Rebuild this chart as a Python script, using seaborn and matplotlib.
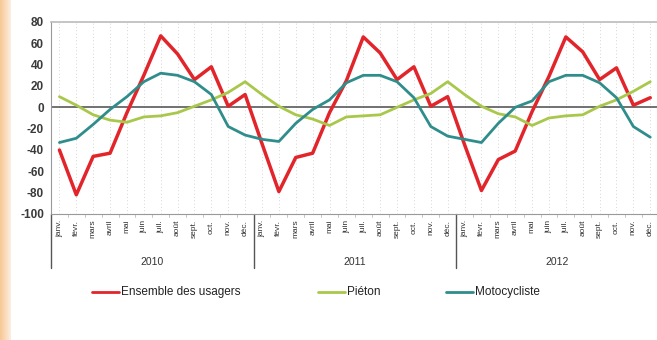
import numpy as np
import pandas as pd
import matplotlib.pyplot as plt
import seaborn as sns
from matplotlib.colors import LinearSegmentedColormap

sns.set_style("white")
plt.rcParams['font.family'] = ['Liberation Sans', 'DejaVu Sans']

years = ['2010', '2011', '2012']
months = ['janv.', 'févr.', 'mars', 'avril', 'mai', 'juin',
          'juil.', 'août', 'sept.', 'oct.', 'nov.', 'déc.']

ensemble = [-40, -82, -46, -43, -5, 30, 67, 50, 26, 38, 1, 12,
            -34, -79, -47, -43, -5, 25, 66, 51, 26, 38, 1, 10,
            -35, -78, -49, -41, -4, 29, 66, 52, 26, 37, 2, 9]
pieton = [10, 2, -7, -12, -14, -9, -8, -5, 1, 7, 14, 24,
          12, 1, -7, -11, -17, -9, -8, -7, 0, 7, 13, 24,
          12, 1, -6, -9, -17, -10, -8, -7, 1, 7, 15, 24]
moto = [-33, -29, -16, -2, 10, 24, 32, 30, 24, 12, -18, -26,
        -30, -32, -15, -2, 7, 23, 30, 30, 24, 9, -18, -27,
        -30, -33, -15, 0, 6, 24, 30, 30, 23, 9, -18, -28]

series_names = ['Ensemble des usagers', 'Piéton', 'Motocycliste']
colors = ['#e2252b', '#a9c84b', '#2f8d8b']

n = len(ensemble)
df = pd.DataFrame({
    'idx': np.tile(np.arange(n), 3),
    'valeur': ensemble + pieton + moto,
    'serie': np.repeat(series_names, n),
})

fig = plt.figure(figsize=(6.57, 3.40), dpi=100)

# peach strip on the left
strip = fig.add_axes([0, 0, 0.016, 1])
cmap = LinearSegmentedColormap.from_list('peach', ['#f6c894', '#fdeee0'])
strip.imshow(np.linspace(0, 1, 50).reshape(1, -1), aspect='auto', cmap=cmap)
strip.axis('off')

ax = fig.add_axes([0.0776, 0.3706, 0.9224, 0.5647])
sns.lineplot(data=df, x='idx', y='valeur', hue='serie', palette=colors,
             linewidth=2, ax=ax, legend=False)
ax.lines[0].set_linewidth(2.5)

ax.set_xlim(-0.5, 35.4)
ax.set_ylim(-100, 80)
ax.set_yticks(range(-100, 81, 20))
ax.set_yticklabels([str(v) for v in range(-100, 81, 20)],
                   fontsize=8.5, color='#3a3a3a', fontweight='bold')
ax.tick_params(axis='y', length=0, pad=5)
ax.set_xticks(range(n))
ax.set_xticklabels([])
ax.tick_params(axis='x', length=0)
ax.set_xlabel('')
ax.set_ylabel('')

for x in range(n):
    ax.axvline(x, color='#c8c8c8', linewidth=0.6, linestyle=(0, (1, 3)), zorder=0)
ax.axhline(0, color='#666666', linewidth=1.3, zorder=1)

for side in ['left', 'right']:
    ax.spines[side].set_visible(False)
ax.spines['top'].set_color('#bbbbbb')
ax.spines['top'].set_linewidth(1.2)
ax.spines['bottom'].set_color('#999999')
ax.spines['bottom'].set_linewidth(0.8)
ax.plot([-0.5, -0.5], [-100, 80], color='#999999', linewidth=0.8,
        clip_on=False, transform=ax.transData)

# month / year labels and separators below the axis
trans = ax.get_xaxis_transform()
for i in range(n):
    ax.text(i, -0.03, months[i % 12], rotation=90, ha='center', va='top',
            fontsize=6, color='#333333', transform=trans)
    ax.plot([i + 0.5, i + 0.5], [0, -0.015], color='#bbbbbb', linewidth=0.6,
            transform=trans, clip_on=False)
for k, yr in enumerate(years):
    ax.text(k * 12 + 5.5, -0.25, yr, ha='center', va='center',
            fontsize=7.5, color='#333333', transform=trans)
for xs in [-0.5, 11.5, 23.5, 35.5]:
    ax.plot([xs, xs], [0, -0.28], color='#555555', linewidth=1.0,
            transform=trans, clip_on=False)

# legend
for lx, name, col in [(92, series_names[0], colors[0]),
                      (318, series_names[1], colors[1]),
                      (446, series_names[2], colors[2])]:
    fy = 1 - 292 / 340
    fig.add_artist(plt.Line2D([lx / 657, (lx + 27) / 657], [fy, fy],
                              color=col, linewidth=2))
    fig.text((lx + 29) / 657, fy, name, fontsize=8.5, va='center',
             color='#222222')

fig.savefig('out.png', dpi=100)
